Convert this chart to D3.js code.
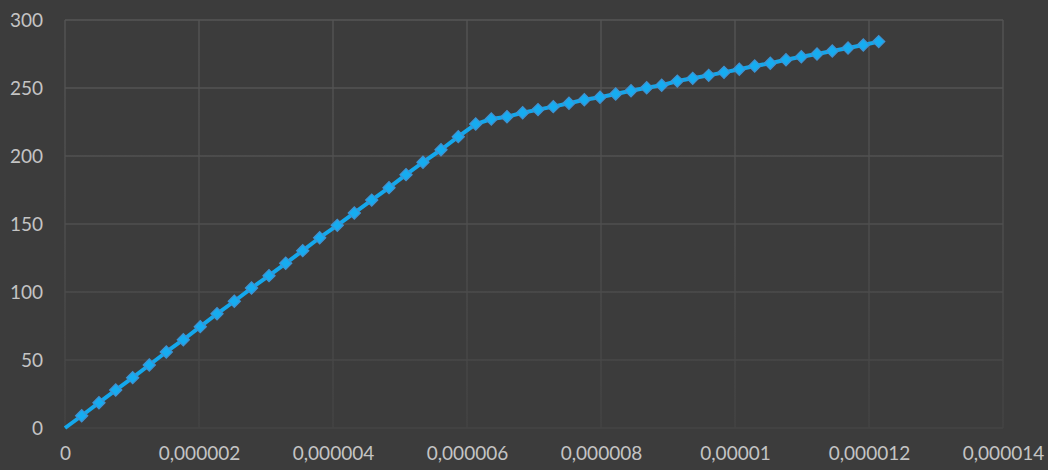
<!DOCTYPE html>
<html>
<head>
<meta charset="utf-8">
<script src="https://cdn.jsdelivr.net/npm/d3@7/dist/d3.min.js"></script>
<style>
  html, body { margin: 0; padding: 0; background: #3c3c3c; }
  svg { display: block; }
  text { font-family: Lato, "Open Sans", sans-serif; fill: #c4c4c4; }
</style>
</head>
<body>
<svg id="chart" width="1048" height="470"></svg>
<script>
// Strain (x) and stress (y) measurements
const strain = [
  0, 0.249e-6, 0.507e-6, 0.757e-6, 1.010e-6, 1.258e-6, 1.512e-6, 1.766e-6, 2.019e-6,
  2.269e-6, 2.527e-6, 2.784e-6, 3.045e-6, 3.294e-6, 3.548e-6, 3.801e-6, 4.064e-6,
  4.318e-6, 4.578e-6, 4.836e-6, 5.090e-6, 5.343e-6, 5.612e-6, 5.870e-6, 6.130e-6,
  6.363e-6, 6.597e-6, 6.831e-6, 7.060e-6, 7.288e-6, 7.522e-6, 7.751e-6, 7.985e-6,
  8.219e-6, 8.448e-6, 8.682e-6, 8.906e-6, 9.139e-6, 9.369e-6, 9.607e-6, 9.836e-6,
  10.064e-6, 10.294e-6, 10.527e-6, 10.761e-6, 10.990e-6, 11.224e-6, 11.452e-6,
  11.687e-6, 11.915e-6, 12.145e-6
];
const stress = [
  0, 9.0, 18.6, 27.9, 37.0, 46.3, 55.9, 64.9, 74.5,
  84.0, 93.2, 102.9, 112.0, 121.1, 130.4, 139.9, 149.0,
  158.1, 167.6, 176.7, 186.3, 195.4, 204.6, 214.2, 223.5,
  227.2, 228.9, 231.8, 234.1, 236.3, 238.8, 241.4, 243.2,
  245.6, 248.0, 250.2, 252.0, 255.1, 257.1, 259.3, 261.5,
  263.8, 266.2, 268.2, 270.8, 273.0, 275.0, 277.2,
  279.4, 281.6, 284.1
];

const xTicks = [0, 2e-6, 4e-6, 6e-6, 8e-6, 10e-6, 12e-6, 14e-6];
const xTickLabels = ["0", "0,000002", "0,000004", "0,000006", "0,000008", "0,00001", "0,000012", "0,000014"];
const yTicks = [0, 50, 100, 150, 200, 250, 300];
const yTickLabels = ["0", "50", "100", "150", "200", "250", "300"];

const svg = d3.select("#chart");
const W = 1048, H = 470;
const plot = { left: 65, right: 1003, top: 20, bottom: 428 };

const x = d3.scaleLinear().domain([0, 14e-6]).range([plot.left, plot.right]);
const y = d3.scaleLinear().domain([0, 300]).range([plot.bottom, plot.top]);

svg.append("rect").attr("width", W).attr("height", H).attr("fill", "#3c3c3c");

// Gridlines fade slightly toward the bottom of the plot
const defs = svg.append("defs");
const grad = defs.append("linearGradient")
  .attr("id", "gridFade")
  .attr("gradientUnits", "userSpaceOnUse")
  .attr("x1", 0).attr("y1", plot.top).attr("x2", 0).attr("y2", plot.bottom);
grad.append("stop").attr("offset", "0%").attr("stop-color", "#555555");
grad.append("stop").attr("offset", "55%").attr("stop-color", "#4e4e4e");
grad.append("stop").attr("offset", "100%").attr("stop-color", "#444444");

const grid = svg.append("g").attr("stroke", "url(#gridFade)").attr("stroke-width", 1.3);
grid.selectAll("line.h").data(yTicks).join("line")
  .attr("class", "h")
  .attr("x1", plot.left).attr("x2", plot.right)
  .attr("y1", d => y(d)).attr("y2", d => y(d));
grid.selectAll("line.v").data(xTicks).join("line")
  .attr("class", "v")
  .attr("x1", d => x(d)).attr("x2", d => x(d))
  .attr("y1", plot.top).attr("y2", plot.bottom);

// Axis labels
const yAxis = d3.axisLeft(y).tickValues(yTicks)
  .tickFormat((d, i) => yTickLabels[i]).tickSize(0).tickPadding(0);
const yG = svg.append("g").attr("transform", `translate(${plot.left - 22},0)`).call(yAxis);
yG.select(".domain").remove();
yG.selectAll("text").attr("font-size", 19).attr("fill", "#c4c4c4")
  .attr("font-family", "Lato, 'Open Sans', sans-serif");

const xAxis = d3.axisBottom(x).tickValues(xTicks)
  .tickFormat((d, i) => xTickLabels[i]).tickSize(0).tickPadding(0);
const xG = svg.append("g").attr("transform", `translate(0,${plot.bottom + 18})`).call(xAxis);
xG.select(".domain").remove();
xG.selectAll("text").attr("font-size", 19).attr("fill", "#c4c4c4")
  .attr("font-family", "Lato, 'Open Sans', sans-serif");

// Series line
const pts = strain.map((s, i) => [s, stress[i]]);
const line = d3.line().x(d => x(d[0])).y(d => y(d[1]));
svg.append("path")
  .datum(pts)
  .attr("fill", "none")
  .attr("stroke", "#14a8ec")
  .attr("stroke-width", 4)
  .attr("stroke-linejoin", "round")
  .attr("d", line);

// Diamond markers (none on the origin point)
svg.append("g").selectAll("path")
  .data(pts.filter(d => d[1] > 0))
  .join("path")
  .attr("transform", d => `translate(${x(d[0])},${y(d[1])}) rotate(45)`)
  .attr("d", d3.symbol().type(d3.symbolSquare).size(74))
  .attr("fill", "#16acf0")
  .attr("stroke", "#3f92d2")
  .attr("stroke-width", 1.2);
</script>
</body>
</html>
